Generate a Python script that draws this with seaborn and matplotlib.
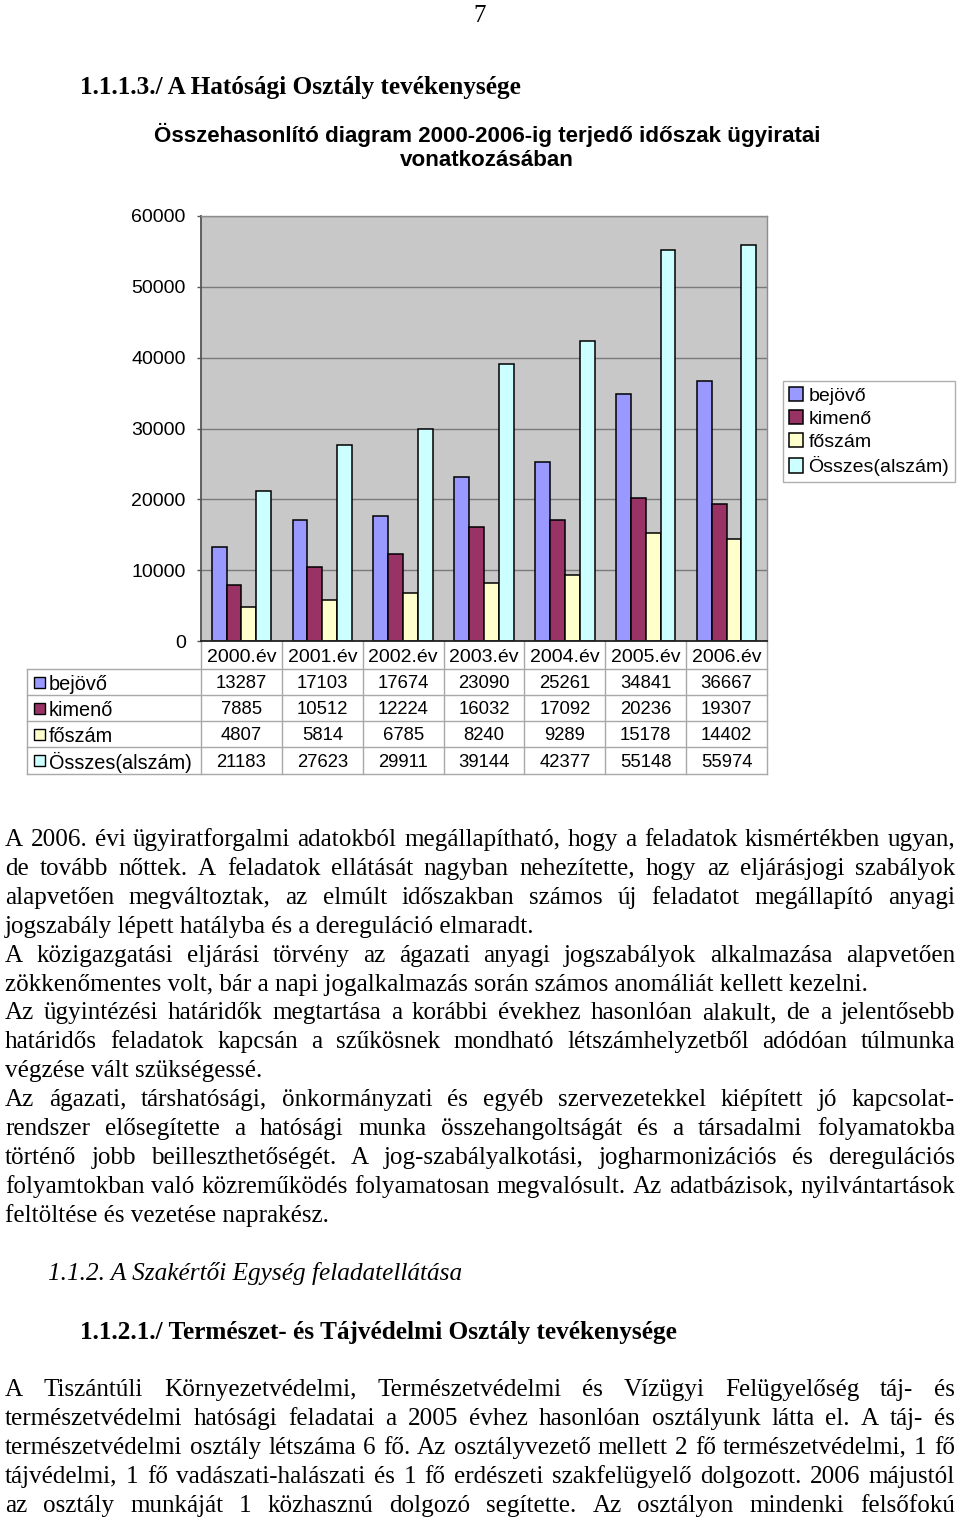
import numpy as np
import pandas as pd
import matplotlib
matplotlib.use("Agg")
import matplotlib.pyplot as plt
import seaborn as sns
from matplotlib.patches import Rectangle

# ---------------- data ----------------
years = ["2000.év", "2001.év", "2002.év", "2003.év", "2004.év", "2005.év", "2006.év"]
series = ["bejövő", "kimenő", "főszám", "Összes(alszám)"]
bejovo = [13287, 17103, 17674, 23090, 25261, 34841, 36667]
kimeno = [7885, 10512, 12224, 16032, 17092, 20236, 19307]
foszam = [4807, 5814, 6785, 8240, 9289, 15178, 14402]
osszes = [21183, 27623, 29911, 39144, 42377, 55148, 55974]
colors = ["#9999FF", "#993366", "#FFFFCC", "#CCFFFF"]
yticks = [0, 10000, 20000, 30000, 40000, 50000, 60000]

page_number = "7"
heading1 = "1.1.1.3./ A Hatósági Osztály tevékenysége"
chart_title = ["Összehasonlító diagram 2000-2006-ig terjedő időszak ügyiratai",
               "vonatkozásában"]
para1 = [
    ("A 2006. évi ügyiratforgalmi adatokból megállapítható, hogy a feladatok kismértékben ugyan,", True),
    ("de tovább nőttek. A feladatok ellátását nagyban nehezítette, hogy az eljárásjogi szabályok", True),
    ("alapvetően megváltoztak, az elmúlt időszakban számos új feladatot megállapító anyagi", True),
    ("jogszabály lépett hatályba és a dereguláció elmaradt.", False),
    ("A közigazgatási eljárási törvény az ágazati anyagi jogszabályok alkalmazása alapvetően", True),
    ("zökkenőmentes volt, bár a napi jogalkalmazás során számos anomáliát kellett kezelni.", False),
    ("Az ügyintézési határidők megtartása a korábbi évekhez hasonlóan alakult, de a jelentősebb", True),
    ("határidős feladatok kapcsán a szűkösnek mondható létszámhelyzetből adódóan túlmunka", True),
    ("végzése vált szükségessé.", False),
    ("Az ágazati, társhatósági, önkormányzati és egyéb szervezetekkel kiépített jó kapcsolat-", True),
    ("rendszer elősegítette a hatósági munka összehangoltságát és a társadalmi folyamatokba", True),
    ("történő jobb beilleszthetőségét. A jog-szabályalkotási, jogharmonizációs és deregulációs", True),
    ("folyamtokban való közreműködés folyamatosan megvalósult. Az adatbázisok, nyilvántartások", True),
    ("feltöltése és vezetése naprakész.", False),
]
heading2 = "1.1.2. A Szakértői Egység feladatellátása"
heading3 = "1.1.2.1./ Természet- és Tájvédelmi Osztály tevékenysége"
para2 = [
    ("A Tiszántúli Környezetvédelmi, Természetvédelmi és Vízügyi Felügyelőség táj- és", True),
    ("természetvédelmi hatósági feladatai a 2005 évhez hasonlóan osztályunk látta el. A táj- és", True),
    ("természetvédelmi osztály létszáma 6 fő. Az osztályvezető mellett 2 fő természetvédelmi, 1 fő", True),
    ("tájvédelmi, 1 fő vadászati-halászati  és 1 fő erdészeti szakfelügyelő dolgozott. 2006 májustól", True),
    ("az osztály munkáját 1 közhasznú dolgozó segítette. Az osztályon mindenki felsőfokú", True),
]

# ---------------- figure ----------------
plt.rcParams["font.family"] = ["Liberation Sans", "DejaVu Sans"]
W, H = 960, 1521
fig = plt.figure(figsize=(W / 100, H / 100), dpi=100)
fig.patch.set_facecolor("white")

page = fig.add_axes([0, 0, 1, 1])
page.set_xlim(0, W)
page.set_ylim(H, 0)
page.axis("off")

SERIF = ["Liberation Serif", "DejaVu Serif"]
SANS = ["Liberation Sans", "DejaVu Sans"]

# chart axes
L, R, T, B = 201, 767, 216, 641
ax = fig.add_axes([L / W, 1 - B / H, (R - L) / W, (B - T) / H])

wide = pd.DataFrame({"year": years, series[0]: bejovo, series[1]: kimeno,
                     series[2]: foszam, series[3]: osszes})
long = wide.melt(id_vars="year", var_name="series", value_name="value")

sns.barplot(data=long, x="year", y="value", hue="series", hue_order=series,
            order=years, palette=colors, saturation=1, edgecolor="black",
            linewidth=1.1, width=0.735, ax=ax)

ax.set_xlim(-0.5, len(years) - 0.5)
ax.set_ylim(0, 60000)
ax.set_facecolor("#C8C8C8")
ax.set_yticks(yticks)
ax.set_yticklabels([str(v) for v in yticks], fontsize=14, family=SANS)
ax.yaxis.grid(True, color="#7A7A7A", linewidth=1)
ax.set_axisbelow(True)
ax.set_xlabel("")
ax.set_ylabel("")
ax.tick_params(axis="x", length=0, labelbottom=False)
ax.tick_params(axis="y", length=3, width=1, color="#555555", pad=8)
for s in ["top", "right"]:
    ax.spines[s].set_color("#8C8C8C")
    ax.spines[s].set_linewidth(1)
ax.spines["left"].set_color("#555555")
ax.spines["left"].set_linewidth(1.3)
ax.spines["bottom"].set_color("#222222")
ax.spines["bottom"].set_linewidth(1.3)

handles, labels = ax.get_legend_handles_labels()
if ax.get_legend() is not None:
    ax.get_legend().remove()
leg = fig.legend(handles, labels, loc="upper left",
                 bbox_to_anchor=(783 / W, 1 - 381 / H), bbox_transform=fig.transFigure,
                 frameon=True, fancybox=False, shadow=False, borderaxespad=0,
                 prop={"family": SANS, "size": 14}, handlelength=0.75, handleheight=0.75,
                 handletextpad=0.25, labelspacing=0.27, borderpad=0.3)
leg.get_frame().set_edgecolor("#9A9A9A")
leg.get_frame().set_linewidth(1)

# ---------------- data table ----------------
def xpix(v):
    return ax.transData.transform((v, 0))[0]

row_edges = [641, 669, 695, 721, 747, 774]
tab_left = 27
col_edges = [xpix(i - 0.5) for i in range(len(years) + 1)]
grid_c = "#A8A8A8"
for k, y in enumerate(row_edges[1:]):
    page.plot([tab_left, col_edges[-1]], [y, y], color=grid_c, lw=1)
for xb in col_edges:
    page.plot([xb, xb], [row_edges[0], row_edges[-1]], color=grid_c, lw=1)
page.plot([tab_left, tab_left], [row_edges[1], row_edges[-1]], color=grid_c, lw=1)

for i, yr in enumerate(years):
    page.text(xpix(i), (row_edges[0] + row_edges[1]) / 2 + 3, yr, ha="center",
              va="center", fontsize=14, family=SANS)
table_vals = [bejovo, kimeno, foszam, osszes]
for r, (name, vals, c) in enumerate(zip(series, table_vals, colors)):
    yc = (row_edges[r + 1] + row_edges[r + 2]) / 2
    page.add_patch(Rectangle((34, yc - 5.5), 11, 11, facecolor=c,
                             edgecolor="black", lw=1))
    page.text(49, yc + 2, name, ha="left", va="center", fontsize=14.3, family=SANS)
    for i, v in enumerate(vals):
        page.text(xpix(i), yc + 2, str(v), ha="center", va="center",
                  fontsize=13.3, family=SANS)

# ---------------- page text ----------------
renderer = fig.canvas.get_renderer()
BODY = 18.1


def text_line(y, line, justify, x0=5, x1=955, size=BODY, **kw):
    if not justify:
        page.text(x0, y, line, fontsize=size, family=SERIF, va="baseline",
                  ha="left", **kw)
        return
    words = line.split()
    ts = [page.text(0, y, w, fontsize=size, family=SERIF, va="baseline",
                    ha="left", **kw) for w in words]
    widths = [t.get_window_extent(renderer).width for t in ts]
    gap = (x1 - x0 - sum(widths)) / (len(words) - 1)
    x = x0
    for t, w in zip(ts, widths):
        t.set_x(x)
        x += w + gap


page.text(480, 22, page_number, ha="center", va="baseline", fontsize=18, family=SERIF)
page.text(80, 94, heading1, ha="left", va="baseline", fontsize=18.2,
          family=SERIF, fontweight="bold")
page.text(487, 142, chart_title[0], ha="center", va="baseline", fontsize=16.1,
          family=SANS, fontweight="bold")
page.text(487, 166, chart_title[1], ha="center", va="baseline", fontsize=16.1,
          family=SANS, fontweight="bold")

y0, pitch = 846, 28.9
for k, (line, just) in enumerate(para1):
    text_line(y0 + k * pitch, line, just)

page.text(48, 1280, heading2, ha="left", va="baseline", fontsize=18.2,
          family=SERIF, fontstyle="italic")
page.text(80, 1339, heading3, ha="left", va="baseline", fontsize=18.2,
          family=SERIF, fontweight="bold")

y1 = 1396
for k, (line, just) in enumerate(para2):
    text_line(y1 + k * pitch, line, just)

fig.savefig("out.png", dpi=100)
